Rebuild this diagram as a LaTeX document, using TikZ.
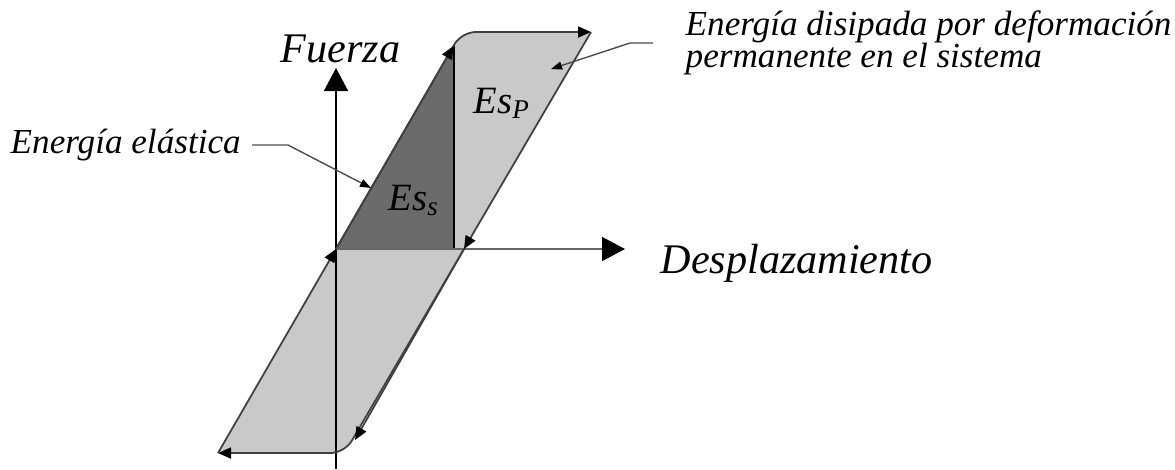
\documentclass[tikz,border=0pt]{standalone}
\usepackage{fontspec}
\setmainfont{Liberation Serif}
\usetikzlibrary{arrows.meta, math}

\begin{document}
\begin{tikzpicture}[x=0.1mm, y=-0.1mm,
  axis/.style={line width=0.45pt, -{Triangle[length=2.3mm, width=2.4mm, color=black]}},
  loopline/.style={line width=0.5pt, draw=black!75, -{Triangle[length=1.3mm, width=1.1mm, color=black]}},
  leader/.style={line width=0.4pt, draw=black!70, -{Triangle[length=1.1mm, width=0.8mm, color=black]}},
  lbl/.style={inner sep=0pt, anchor=base west},
  big/.style={font=\itshape\fontsize{12}{14}\selectfont},
  small/.style={font=\itshape\fontsize{10}{8}\selectfont}]
\tikzmath{
\rc=1.4;
}
\useasboundingbox (0,0) rectangle (1175,469);

% loop corners
\coordinate (O) at (336,249);
\coordinate (C1) at (461.5,32);
\coordinate (R1) at (591,32);
\coordinate (X) at (464,249);
\coordinate (C2) at (344.6,453);
\coordinate (L) at (218,453);
\coordinate (P1) at (453.5,46);
\coordinate (P2) at (355,440);
\coordinate (T) at (454,45);
\coordinate (B) at (454,249);

\fill[black!21] (L) -- (O) [rounded corners=\rc mm] -- (C1) [sharp corners] -- (R1) -- (X)
  [rounded corners=\rc mm] -- (C2) [sharp corners] -- cycle;
\fill[black!58] (O) -- (T) -- (B) -- cycle;
\draw[line width=0.6pt] (T) -- (B);

% axes
\coordinate (ybot) at (336,469);
\coordinate (ytop) at (336,68);
\coordinate (xend) at (625,249);
\draw[axis] (ybot) -- (ytop);
\draw[axis, draw=black!60] (O) -- (xend);

% hysteresis branches
\draw[loopline, rounded corners=\rc mm] (O) -- (C1) -- (R1);
\draw[loopline] (O) -- (P1);
\draw[loopline] (R1) -- (X);
\draw[loopline, rounded corners=\rc mm] (X) -- (C2) -- (L);
\draw[loopline] (X) -- (P2);
\draw[loopline] (L) -- (O);

% labels
\node[lbl, big] (fuerza) at (280,62) {Fuerza};
\node[lbl, big] (despl) at (660,273) {Desplazamiento};
\node[lbl, font=\itshape\fontsize{11}{13}\selectfont] (esp) at (473,113) {Es\textsubscript{P}};
\node[lbl, font=\itshape\fontsize{11}{13}\selectfont] (ess) at (388,210) {Es\textsubscript{s}};
\node[lbl, small] (elastica) at (10,153) {Energía elástica};
\node[lbl, small] (disipada) at (685,35) {Energía disipada por deformación};
\node[lbl, small] (permanente) at (685,67) {permanente en el sistema};

% leaders
\coordinate (ela-a) at (252,145);
\coordinate (ela-b) at (288,145);
\coordinate (ela-c) at (371,188);
\draw[leader] (ela-a) -- (ela-b) -- (ela-c);
\coordinate (dis-a) at (653,43);
\coordinate (dis-b) at (630,43);
\coordinate (dis-c) at (551,69);
\draw[leader] (dis-a) -- (dis-b) -- (dis-c);
\end{tikzpicture}
\end{document}
